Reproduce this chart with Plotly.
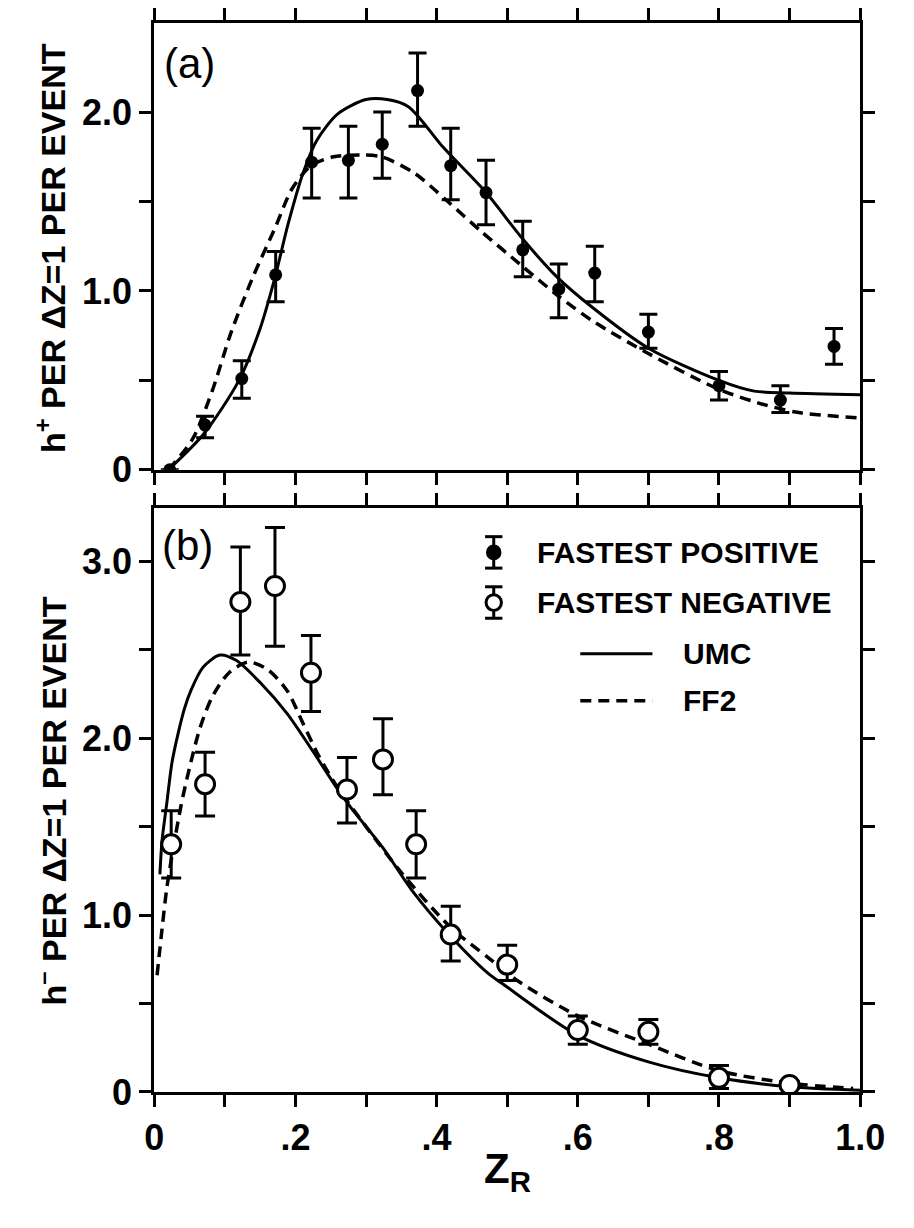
import plotly.graph_objects as go

W, H = 914, 1228

# ---------------- data: panel (a) fastest positive ----------------
a_x = [0.022, 0.072, 0.124, 0.172, 0.223, 0.275, 0.323, 0.373, 0.42, 0.47,
       0.522, 0.573, 0.624, 0.70, 0.80, 0.887, 0.963]
a_y = [0.0, 0.25, 0.51, 1.09, 1.72, 1.73, 1.82, 2.12, 1.70, 1.55,
       1.23, 1.01, 1.10, 0.77, 0.47, 0.39, 0.69]
a_hi = [0.0, 0.30, 0.61, 1.22, 1.91, 1.92, 2.00, 2.33, 1.91, 1.73,
        1.39, 1.15, 1.25, 0.87, 0.55, 0.47, 0.79]
a_lo = [0.0, 0.18, 0.40, 0.94, 1.52, 1.52, 1.63, 1.92, 1.51, 1.37,
        1.08, 0.85, 0.94, 0.68, 0.39, 0.32, 0.59]

umc_a_x = [0.02, 0.07, 0.12, 0.15, 0.17, 0.19, 0.21, 0.23, 0.26, 0.30, 0.33,
           0.36, 0.41, 0.47, 0.52, 0.57, 0.62, 0.70, 0.80, 0.85, 0.90, 1.0]
umc_a_y = [0.0, 0.20, 0.50, 0.79, 1.06, 1.38, 1.65, 1.84, 1.99, 2.07, 2.07,
           2.03, 1.80, 1.55, 1.30, 1.08, 0.91, 0.68, 0.50, 0.44, 0.43, 0.42]

ff2_a_x = [0.02, 0.054, 0.082, 0.109, 0.14, 0.172, 0.195, 0.222, 0.254, 0.295,
           0.322, 0.368, 0.413, 0.464, 0.518, 0.573, 0.622, 0.70, 0.80, 0.868,
           0.913, 1.0]
ff2_a_y = [0.0, 0.17, 0.44, 0.77, 1.08, 1.36, 1.57, 1.70, 1.75, 1.76,
           1.75, 1.66, 1.51, 1.33, 1.15, 0.97, 0.83, 0.65, 0.45, 0.36,
           0.32, 0.29]

# ---------------- data: panel (b) fastest negative ----------------
b_x = [0.024, 0.072, 0.122, 0.171, 0.222, 0.273, 0.324, 0.371, 0.42, 0.50,
       0.60, 0.70, 0.80, 0.90]
b_y = [1.40, 1.74, 2.77, 2.86, 2.37, 1.71, 1.88, 1.40, 0.89, 0.72,
       0.35, 0.34, 0.08, 0.04]
b_hi = [1.59, 1.92, 3.08, 3.19, 2.58, 1.89, 2.11, 1.59, 1.05, 0.83,
        0.43, 0.41, 0.15, 0.06]
b_lo = [1.21, 1.56, 2.47, 2.52, 2.15, 1.52, 1.68, 1.21, 0.74, 0.63,
        0.27, 0.27, 0.02, 0.02]

umc_b_x = [0.008, 0.011, 0.018, 0.025, 0.034, 0.043, 0.052, 0.069, 0.093, 0.116,
           0.151, 0.188, 0.224, 0.26, 0.278, 0.324, 0.365, 0.42, 0.473, 0.494,
           0.60, 0.70, 0.80, 0.90, 1.0]
umc_b_y = [1.23, 1.42, 1.64, 1.86, 2.03, 2.17, 2.27, 2.40, 2.47, 2.44,
           2.31, 2.14, 1.93, 1.71, 1.61, 1.38, 1.14, 0.88, 0.67, 0.61,
           0.32, 0.17, 0.08, 0.03, 0.01]

ff2_b_x = [0.004, 0.011, 0.018, 0.027, 0.038, 0.048, 0.065, 0.083, 0.106, 0.133,
           0.16, 0.188, 0.21, 0.233, 0.26, 0.30, 0.35, 0.42, 0.473, 0.518,
           0.60, 0.70, 0.80, 0.90, 0.99]
ff2_b_y = [0.66, 0.92, 1.16, 1.38, 1.62, 1.80, 2.06, 2.24, 2.37, 2.43,
           2.39, 2.27, 2.09, 1.90, 1.72, 1.50, 1.24, 0.93, 0.76, 0.62,
           0.43, 0.27, 0.12, 0.05, 0.02]

x_tickvals = [0.0, 0.2, 0.4, 0.6, 0.8, 1.0]
x_ticktext = ["0", ".2", ".4", ".6", ".8", "1.0"]
x_minor = [0.1, 0.3, 0.5, 0.7, 0.9]
x_all = [0.0, 0.1, 0.2, 0.3, 0.4, 0.5, 0.6, 0.7, 0.8, 0.9, 1.0]
ya_tickvals = [0.0, 1.0, 2.0]
ya_ticktext = ["0", "1.0", "2.0"]
ya_minor = [0.5, 1.5]
yb_tickvals = [0.0, 1.0, 2.0, 3.0]
yb_ticktext = ["0", "1.0", "2.0", "3.0"]
yb_minor = [0.5, 1.5, 2.5]

legend_labels = ["FASTEST POSITIVE", "FASTEST NEGATIVE", "UMC", "FF2"]

FONT = "Liberation Sans, Arial, sans-serif"
BLACK = "#000000"


def px(x):
    return x / W


def py(y):
    return 1 - y / H


fig = go.Figure()

# panel (a)
fig.add_trace(go.Scatter(x=umc_a_x, y=umc_a_y, mode="lines", xaxis="x", yaxis="y",
                         line=dict(color=BLACK, width=3, shape="spline", smoothing=0.8),
                         showlegend=False))
fig.add_trace(go.Scatter(x=ff2_a_x, y=ff2_a_y, mode="lines", xaxis="x", yaxis="y",
                         line=dict(color=BLACK, width=3.5, dash="11px,7px",
                                   shape="spline", smoothing=0.8),
                         showlegend=False))
fig.add_trace(go.Scatter(
    x=a_x, y=a_y, mode="markers", xaxis="x", yaxis="y",
    marker=dict(symbol="circle", size=13, color=BLACK),
    error_y=dict(type="data", symmetric=False,
                 array=[h - v for h, v in zip(a_hi, a_y)],
                 arrayminus=[v - l for v, l in zip(a_y, a_lo)],
                 color=BLACK, thickness=3, width=9),
    showlegend=False))

# panel (b)
fig.add_trace(go.Scatter(x=umc_b_x, y=umc_b_y, mode="lines", xaxis="x2", yaxis="y2",
                         line=dict(color=BLACK, width=3, shape="spline", smoothing=0.8),
                         showlegend=False))
fig.add_trace(go.Scatter(x=ff2_b_x, y=ff2_b_y, mode="lines", xaxis="x2", yaxis="y2",
                         line=dict(color=BLACK, width=3.5, dash="11px,7px",
                                   shape="spline", smoothing=0.8),
                         showlegend=False))
fig.add_trace(go.Scatter(
    x=b_x, y=b_y, mode="markers", xaxis="x2", yaxis="y2",
    marker=dict(symbol="circle", size=19, color="white",
                line=dict(color=BLACK, width=3)),
    error_y=dict(type="data", symmetric=False,
                 array=[h - v for h, v in zip(b_hi, b_y)],
                 arrayminus=[v - l for v, l in zip(b_y, b_lo)],
                 color=BLACK, thickness=3, width=10),
    showlegend=False))

tickfont = dict(family=FONT, size=36, color=BLACK, weight="bold")
common_axis = dict(showline=True, linewidth=3, linecolor=BLACK, mirror="ticks",
                   ticks="outside", ticklen=12, tickwidth=2.5, tickcolor=BLACK,
                   showgrid=False, zeroline=False, tickfont=tickfont)


def minor(vals):
    return dict(tickmode="array", tickvals=vals, ticks="outside", ticklen=12,
                tickwidth=2.5, tickcolor=BLACK, showgrid=False)


xdom = [px(150), px(884)]
fig.update_layout(
    width=W, height=H,
    margin=dict(l=0, r=0, t=0, b=0),
    paper_bgcolor="white", plot_bgcolor="white",
    showlegend=False,
    # top panel x axis: ticks only (no labels) -> all ticks drawn as minor ticks
    xaxis=dict(domain=xdom, anchor="y", range=[0, 1], tickmode="array",
               tickvals=[], showticklabels=False,
               minor=minor(x_all), **common_axis),
    yaxis=dict(domain=[py(478), py(23)], anchor="x", range=[0, 2.5],
               tickmode="array", tickvals=ya_tickvals, ticktext=ya_ticktext,
               minor=minor(ya_minor), **common_axis),
    xaxis2=dict(domain=xdom, anchor="y2", range=[0, 1], tickmode="array",
                tickvals=x_tickvals, ticktext=x_ticktext,
                minor=minor(x_minor), **common_axis),
    yaxis2=dict(domain=[py(1111), py(517)], anchor="x2", range=[0, 3.3],
                tickmode="array", tickvals=yb_tickvals, ticktext=yb_ticktext,
                minor=minor(yb_minor), **common_axis),
)

ann = []
# panel labels
ann.append(dict(text="(a)", x=px(158), y=py(65), xref="paper", yref="paper",
                xanchor="left", yanchor="middle", showarrow=False,
                font=dict(family=FONT, size=42, color=BLACK)))
ann.append(dict(text="(b)", x=px(156), y=py(555), xref="paper", yref="paper",
                xanchor="left", yanchor="middle", showarrow=False,
                font=dict(family=FONT, size=42, color=BLACK)))
# axis titles
title_font = dict(family=FONT, size=34, color=BLACK, weight="bold")
ann.append(dict(text="h<sup>+</sup> PER \u0394Z=1 PER EVENT", x=px(42), y=py(252),
                xref="paper", yref="paper", textangle=-90, showarrow=False,
                xanchor="center", yanchor="middle", font=title_font))
ann.append(dict(text="h<sup>\u2013</sup> PER \u0394Z=1 PER EVENT", x=px(42), y=py(815),
                xref="paper", yref="paper", textangle=-90, showarrow=False,
                xanchor="center", yanchor="middle", font=title_font))
ann.append(dict(text="Z<sub>R</sub>", x=px(517), y=py(1192), xref="paper", yref="paper",
                showarrow=False, xanchor="center", yanchor="middle",
                font=dict(family=FONT, size=42, color=BLACK, weight="bold")))

# legend (drawn as decoration)
leg_font = dict(family=FONT, size=30, color=BLACK, weight="bold")
rows_y = [562, 613, 665, 713]
for lab, ry, lx in zip(legend_labels, rows_y, [546, 546, 698, 698]):
    ann.append(dict(text=lab, x=px(lx), y=py(ry), xref="paper", yref="paper",
                    showarrow=False, xanchor="left", yanchor="middle", font=leg_font))
fig.update_layout(annotations=ann)

shapes = []
mx = 503
for ry, filled, r in [(562, True, 6.5), (613, False, 8)]:
    top, bot = ry - 16, ry + 16
    shapes.append(dict(type="line", xref="paper", yref="paper", x0=px(mx), x1=px(mx),
                       y0=py(top), y1=py(bot), line=dict(color=BLACK, width=3)))
    for yy in (top, bot):
        shapes.append(dict(type="line", xref="paper", yref="paper", x0=px(mx - 9),
                           x1=px(mx + 9), y0=py(yy), y1=py(yy),
                           line=dict(color=BLACK, width=3)))
    shapes.append(dict(type="circle", xref="paper", yref="paper",
                       x0=px(mx - r), x1=px(mx + r), y0=py(ry + r), y1=py(ry - r),
                       fillcolor=BLACK if filled else "white",
                       line=dict(color=BLACK, width=3)))
shapes.append(dict(type="line", xref="paper", yref="paper", x0=px(593), x1=px(668),
                   y0=py(665), y1=py(665), line=dict(color=BLACK, width=3)))
shapes.append(dict(type="line", xref="paper", yref="paper", x0=px(593), x1=px(668),
                   y0=py(713), y1=py(713), line=dict(color=BLACK, width=3.5, dash="11px,7px")))
fig.update_layout(shapes=shapes)

fig.write_html("out.html")
